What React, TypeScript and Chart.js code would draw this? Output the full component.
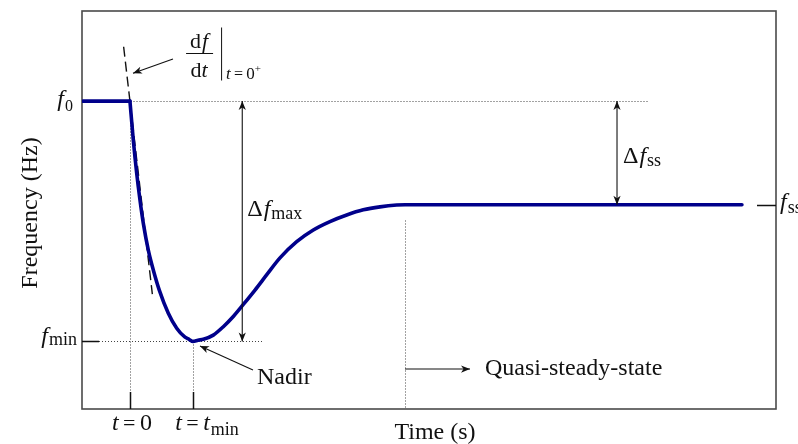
import React, { useEffect, useRef } from "react";
import { Chart, registerables } from "chart.js";

Chart.register(...registerables);

// Frequency after a generation loss: initial drop, nadir, recovery to quasi-steady-state.
const F0 = 50.0; // pre-disturbance frequency (Hz)
const F_MIN = 49.2; // nadir (Hz)
const F_SS = 49.655; // quasi-steady-state frequency (Hz)
const T_MIN = 1.0; // time of nadir
const T_QSS = 4.36; // start of quasi-steady-state
const ROCOF0 = -1.81; // df/dt at t = 0+

const preTime = [-0.745, 0];
const preFreq = [50.0, 50.0];

const respTime = [
  0, 0.053, 0.107, 0.159, 0.212, 0.291, 0.37, 0.465, 0.608, 0.741, 0.873, 0.936, 1.0, 1.079,
  1.163, 1.321, 1.48, 1.638, 1.797, 1.982, 2.172, 2.378, 2.643, 2.906, 3.17, 3.436, 3.699, 3.963,
  4.228, 4.36, 9.7,
];
const respFreq = [
  50.0, 49.87, 49.76, 49.671, 49.593, 49.504, 49.438, 49.371, 49.294, 49.244, 49.214, 49.207, 49.2,
  49.204, 49.207, 49.221, 49.249, 49.283, 49.323, 49.371, 49.423, 49.478, 49.532, 49.571, 49.599,
  49.621, 49.638, 49.648, 49.654, 49.655, 49.655,
];

// tangent at t = 0+ drawn as a dashed segment
const tangentTime = [-0.1, 0.355];

const X_MIN = -0.76;
const X_MAX = 10.24;
const Y_MIN = 48.975;
const Y_MAX = 50.3;

const NAVY = "#00008b";
const SERIF = '"Liberation Serif", "DejaVu Serif", serif';

type Run = { s: string; it?: boolean; size?: number; dy?: number; dx?: number };

function drawRuns(
  ctx: CanvasRenderingContext2D,
  runs: Run[],
  x: number,
  y: number,
  align: "left" | "center" | "right",
  base = 24
) {
  const fonts = runs.map((r) => `${r.it ? "italic " : ""}${r.size ?? base}px ${SERIF}`);
  const widths = runs.map((r, i) => {
    ctx.font = fonts[i];
    return ctx.measureText(r.s).width + (r.dx ?? 0);
  });
  const total = widths.reduce((a, b) => a + b, 0);
  let cx = align === "left" ? x : align === "center" ? x - total / 2 : x - total;
  ctx.textAlign = "left";
  ctx.textBaseline = "alphabetic";
  runs.forEach((r, i) => {
    ctx.font = fonts[i];
    cx += r.dx ?? 0;
    ctx.fillText(r.s, cx, y + (r.dy ?? 0));
    cx += widths[i] - (r.dx ?? 0);
  });
}

function arrowHead(
  ctx: CanvasRenderingContext2D,
  x1: number,
  y1: number,
  x2: number,
  y2: number,
  len = 9,
  w = 3.6
) {
  const ang = Math.atan2(y2 - y1, x2 - x1);
  ctx.save();
  ctx.translate(x2, y2);
  ctx.rotate(ang);
  ctx.beginPath();
  ctx.moveTo(0, 0);
  ctx.lineTo(-len, -w);
  ctx.lineTo(-len * 0.72, 0);
  ctx.lineTo(-len, w);
  ctx.closePath();
  ctx.fill();
  ctx.restore();
}

function arrow(
  ctx: CanvasRenderingContext2D,
  x1: number,
  y1: number,
  x2: number,
  y2: number,
  both = false
) {
  ctx.save();
  ctx.strokeStyle = "#111";
  ctx.fillStyle = "#111";
  ctx.lineWidth = 1.1;
  ctx.setLineDash([]);
  ctx.beginPath();
  ctx.moveTo(x1, y1);
  ctx.lineTo(x2, y2);
  ctx.stroke();
  arrowHead(ctx, x1, y1, x2, y2);
  if (both) arrowHead(ctx, x2, y2, x1, y1);
  ctx.restore();
}

function dotted(ctx: CanvasRenderingContext2D, x1: number, y1: number, x2: number, y2: number) {
  ctx.save();
  ctx.strokeStyle = "#444";
  ctx.lineWidth = 1;
  ctx.setLineDash([1, 2]);
  ctx.beginPath();
  ctx.moveTo(x1, y1);
  ctx.lineTo(x2, y2);
  ctx.stroke();
  ctx.restore();
}

const annotations = {
  id: "annotations",
  beforeDatasetsDraw(chart: any) {
    const { ctx, chartArea: a, scales } = chart;
    const px = (t: number) => Math.round(scales.x.getPixelForValue(t)) + 0.5;
    const py = (f: number) => Math.round(scales.y.getPixelForValue(f)) + 0.5;
    const TICK = 17;

    // guide lines
    dotted(ctx, px(0), py(F0), px(8.21), py(F0));
    dotted(ctx, a.left + TICK, py(F_MIN), px(2.09), py(F_MIN));
    dotted(ctx, px(0), py(F0), px(0), a.bottom - TICK);
    dotted(ctx, px(T_MIN), py(F_MIN), px(T_MIN), a.bottom - TICK);
    dotted(ctx, px(T_QSS), py(49.604), px(T_QSS), a.bottom);

    // frame
    ctx.save();
    ctx.strokeStyle = "#4a4a4a";
    ctx.lineWidth = 1.6;
    ctx.strokeRect(a.left, a.top, a.right - a.left, a.bottom - a.top);

    // inward ticks
    ctx.strokeStyle = "#111";
    ctx.lineWidth = 1.5;
    ctx.beginPath();
    [F0, F_MIN].forEach((f) => {
      ctx.moveTo(a.left, py(f));
      ctx.lineTo(a.left + TICK, py(f));
    });
    ctx.moveTo(a.right, py(F_SS));
    ctx.lineTo(a.right - TICK - 2, py(F_SS));
    [0, T_MIN].forEach((t) => {
      ctx.moveTo(px(t), a.bottom);
      ctx.lineTo(px(t), a.bottom - TICK);
    });
    ctx.stroke();
    ctx.restore();
  },
  afterDatasetsDraw(chart: any) {
    const { ctx, chartArea: a, scales } = chart;
    const px = (t: number) => scales.x.getPixelForValue(t);
    const py = (f: number) => scales.y.getPixelForValue(f);

    // measurement arrows
    arrow(ctx, px(1.78), py(F0), px(1.78), py(F_MIN), true);
    arrow(ctx, px(7.72), py(F0), px(7.72), py(F_SS), true);
    arrow(ctx, px(1.95), py(49.105), px(1.11), py(49.185));
    arrow(ctx, px(T_QSS), py(49.108), px(5.39), py(49.108));
    arrow(ctx, px(0.682), py(50.14), px(0.048), py(50.093));

    ctx.save();
    ctx.fillStyle = "#111";

    // axis titles
    drawRuns(ctx, [{ s: "Time (s)" }], (a.left + a.right) / 2 + 6, a.bottom + 30, "center");
    ctx.save();
    ctx.translate(37, (a.top + a.bottom) / 2 + 3);
    ctx.rotate(-Math.PI / 2);
    drawRuns(ctx, [{ s: "Frequency (Hz)" }], 0, 0, "center");
    ctx.restore();

    // value labels on the axes
    drawRuns(ctx, [{ s: "f", it: true }, { s: "0", size: 16, dy: 5, dx: 1 }], a.left - 9, py(F0) + 5, "right");
    drawRuns(ctx, [{ s: "f", it: true }, { s: "min", size: 18, dy: 2, dx: 1 }], a.left - 5, py(F_MIN) + 2, "right");
    drawRuns(ctx, [{ s: "f", it: true }, { s: "ss", size: 18, dy: 4, dx: 1 }], a.right + 4, py(F_SS) + 4, "left");
    drawRuns(ctx, [{ s: "t", it: true }, { s: "\u2009=\u2009", size: 22 }, { s: "0" }], px(0) + 2, a.bottom + 21, "center");
    drawRuns(
      ctx,
      [
        { s: "t", it: true },
        { s: "\u2009=\u2009", size: 22 },
        { s: "t", it: true },
        { s: "min", size: 18, dy: 5, dx: 1 },
      ],
      px(T_MIN) + 14,
      a.bottom + 21,
      "center"
    );

    // deviation labels
    drawRuns(
      ctx,
      [{ s: "\u0394" }, { s: "f", it: true, dx: 1 }, { s: "max", size: 18, dy: 3, dx: 1 }],
      px(1.78) + 5,
      py(49.65) + 10,
      "left"
    );
    drawRuns(
      ctx,
      [{ s: "\u0394" }, { s: "f", it: true, dx: 1 }, { s: "ss", size: 18, dy: 3, dx: 1 }],
      px(7.72) + 6,
      py(49.795),
      "left"
    );

    // nadir & quasi-steady-state
    drawRuns(ctx, [{ s: "Nadir" }], px(1.95) + 4, py(49.105) + 14, "left");
    drawRuns(ctx, [{ s: "Quasi-steady-state" }], px(5.39) + 15, py(49.108) + 6, "left");

    // df/dt at t = 0+
    const fx = px(0.018) + 68;
    const barY = Math.round(py(50.16)) + 0.5;
    drawRuns(ctx, [{ s: "d" }, { s: "f", it: true, dx: 1 }], fx, barY - 6, "center", 22);
    drawRuns(ctx, [{ s: "d" }, { s: "t", it: true }], fx, barY + 23, "center", 22);
    ctx.strokeStyle = "#111";
    ctx.lineWidth = 1;
    ctx.beginPath();
    ctx.moveTo(fx - 13, barY);
    ctx.lineTo(fx + 14, barY);
    ctx.moveTo(fx + 22.5, barY - 26);
    ctx.lineTo(fx + 22.5, barY + 27);
    ctx.stroke();
    drawRuns(
      ctx,
      [
        { s: "t", it: true },
        { s: "\u2009=\u2009", size: 16 },
        { s: "0", size: 17 },
        { s: "+", size: 11, dy: -7 },
      ],
      fx + 27,
      barY + 25,
      "left",
      17
    );
    ctx.restore();
  },
};

export default function App() {
  const ref = useRef<HTMLCanvasElement | null>(null);

  useEffect(() => {
    if (!ref.current) return;
    const pts = (ts: number[], fs: number[]) => ts.map((t, i) => ({ x: t, y: fs[i] }));
    const tangentFreq = tangentTime.map((t) => F0 + ROCOF0 * t);

    const chart = new Chart(ref.current, {
      type: "line",
      data: {
        datasets: [
          {
            data: pts(preTime, preFreq),
            borderColor: NAVY,
            borderWidth: 3.6,
            borderCapStyle: "round",
            pointRadius: 0,
            tension: 0,
            order: 1,
          },
          {
            data: pts(respTime, respFreq),
            borderColor: NAVY,
            borderWidth: 3.6,
            borderCapStyle: "round",
            borderJoinStyle: "round",
            cubicInterpolationMode: "monotone",
            pointRadius: 0,
            order: 1,
          },
          {
            data: pts(tangentTime, tangentFreq),
            borderColor: "#111",
            borderWidth: 1.4,
            borderDash: [10, 5],
            pointRadius: 0,
            tension: 0,
            order: 3,
          },
        ],
      },
      options: {
        animation: false,
        responsive: false,
        events: [],
        layout: { padding: { left: 82, right: 22, top: 11, bottom: 35 } },
        scales: {
          x: { type: "linear", min: X_MIN, max: X_MAX, display: false },
          y: { type: "linear", min: Y_MIN, max: Y_MAX, display: false },
        },
        plugins: { legend: { display: false }, tooltip: { enabled: false } },
      },
      plugins: [annotations],
    });
    return () => chart.destroy();
  }, []);

  return (
    <div style={{ position: "fixed", left: 0, top: 0, width: 798, height: 444, background: "#fff" }}>
      <canvas ref={ref} width={798} height={444} />
    </div>
  );
}
